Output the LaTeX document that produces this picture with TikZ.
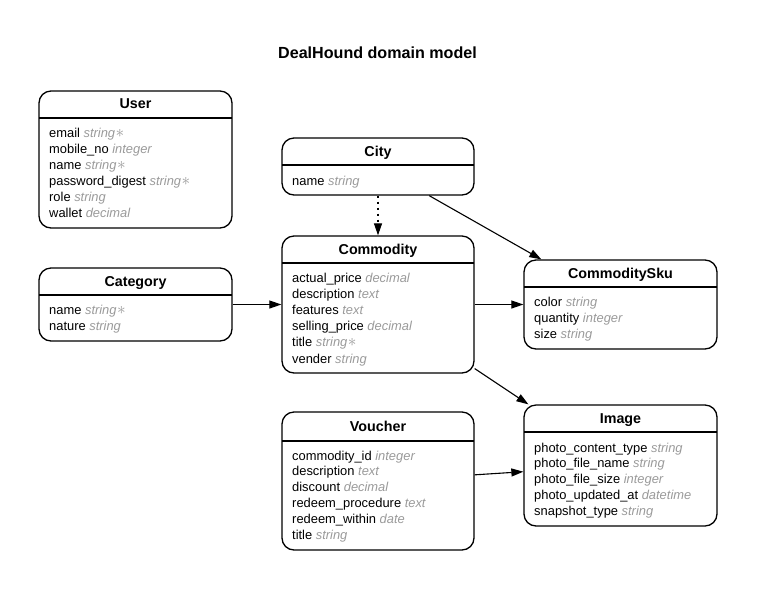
\documentclass[tikz,border=0pt]{standalone}
\usepackage{fontspec}
\setmainfont{Liberation Sans}
\usetikzlibrary{arrows.meta}
\definecolor{tgray}{HTML}{9A9A9A}
\newcommand\attrtype[1]{{\color{tgray}\itshape #1}}
\newcommand\stsym{\kern0.5pt{\fontsize{16}{16}\selectfont$\ast$}}
\tikzset{
  entity/.style={draw, line width=1.3pt, rounded corners=12pt, inner sep=0pt},
  divider/.style={line width=1.3pt},
  hdr/.style={font=\fontsize{14.3}{16}\selectfont\bfseries, anchor=base, inner sep=0pt},
  attr/.style={font=\fontsize{12.9}{14}\selectfont, anchor=base west, inner sep=0pt},
  rel/.style={line width=1.1pt, -{Triangle[length=12pt,width=8pt]}},
}
\begin{document}
\begin{tikzpicture}[x=1pt,y=-1pt]
\useasboundingbox (0,0) rectangle (757,590);
\node[font=\fontsize{16.1}{18}\selectfont\bfseries, anchor=base, inner sep=0pt] (title) at (377.5,58) {DealHound domain model};

% User
\node[entity, minimum width=193pt, minimum height=137pt] (user) at (135.5,159.5) {};
\draw[divider] (39,118) -- (232,118);
\node[hdr] (userh) at (135.5,108) {User};
\node[attr] (u1) at (49,137) {email \attrtype{string\stsym}};
\node[attr] (u2) at (49,153) {mobile\_no \attrtype{integer}};
\node[attr] (u3) at (49,169) {name \attrtype{string\stsym}};
\node[attr] (u4) at (49,185) {password\_digest \attrtype{string\stsym}};
\node[attr] (u5) at (49,201) {role \attrtype{string}};
\node[attr] (u6) at (49,217) {wallet \attrtype{decimal}};

% City
\node[entity, minimum width=192pt, minimum height=57pt] (city) at (378,166.5) {};
\draw[divider] (282,165) -- (474,165);
\node[hdr] (cityh) at (378,156) {City};
\node[attr] (c1) at (292,185) {name \attrtype{string}};

% Commodity
\node[entity, minimum width=192pt, minimum height=137pt] (commodity) at (378,304.5) {};
\draw[divider] (282,263) -- (474,263);
\node[hdr] (commodityh) at (378,254) {Commodity};
\node[attr] (m1) at (292,282) {actual\_price \attrtype{decimal}};
\node[attr] (m2) at (292,298.2) {description \attrtype{text}};
\node[attr] (m3) at (292,314.4) {features \attrtype{text}};
\node[attr] (m4) at (292,330.6) {selling\_price \attrtype{decimal}};
\node[attr] (m5) at (292,346.8) {title \attrtype{string\stsym}};
\node[attr] (m6) at (292,363) {vender \attrtype{string}};

% Category
\node[entity, minimum width=193pt, minimum height=73pt] (category) at (135.5,304.5) {};
\draw[divider] (39,295) -- (232,295);
\node[hdr] (categoryh) at (135.5,286) {Category};
\node[attr] (g1) at (49,314) {name \attrtype{string\stsym}};
\node[attr] (g2) at (49,330) {nature \attrtype{string}};

% CommoditySku
\node[entity, minimum width=193pt, minimum height=89pt] (sku) at (620.5,304.5) {};
\draw[divider] (524,287) -- (717,287);
\node[hdr] (skuh) at (620.5,278) {CommoditySku};
\node[attr] (s1) at (534,306) {color \attrtype{string}};
\node[attr] (s2) at (534,322) {quantity \attrtype{integer}};
\node[attr] (s3) at (534,338) {size \attrtype{string}};

% Voucher
\node[entity, minimum width=192pt, minimum height=138pt] (voucher) at (378,481) {};
\draw[divider] (282,441) -- (474,441);
\node[hdr] (voucherh) at (378,431) {Voucher};
\node[attr] (v1) at (292,460) {commodity\_id \attrtype{integer}};
\node[attr] (v2) at (292,475.8) {description \attrtype{text}};
\node[attr] (v3) at (292,491.6) {discount \attrtype{decimal}};
\node[attr] (v4) at (292,507.4) {redeem\_procedure \attrtype{text}};
\node[attr] (v5) at (292,523.2) {redeem\_within \attrtype{date}};
\node[attr] (v6) at (292,539) {title \attrtype{string}};

% Image
\node[entity, minimum width=193pt, minimum height=121pt] (image) at (620.5,465.5) {};
\draw[divider] (524,432) -- (717,432);
\node[hdr] (imageh) at (620.5,423) {Image};
\node[attr] (i1) at (534,452) {photo\_content\_type \attrtype{string}};
\node[attr] (i2) at (534,467.75) {photo\_file\_name \attrtype{string}};
\node[attr] (i3) at (534,483.5) {photo\_file\_size \attrtype{integer}};
\node[attr] (i4) at (534,499.25) {photo\_updated\_at \attrtype{datetime}};
\node[attr] (i5) at (534,515) {snapshot\_type \attrtype{string}};

% Relations
\draw[rel, dash pattern=on 2pt off 4pt] (city) -- (commodity);
\draw[rel] (city) -- (sku);
\draw[rel] (category) -- (commodity);
\draw[rel] (commodity) -- (sku);
\draw[rel] (commodity) -- (image);
\draw[rel] (voucher) -- (image);
\end{tikzpicture}
\end{document}
